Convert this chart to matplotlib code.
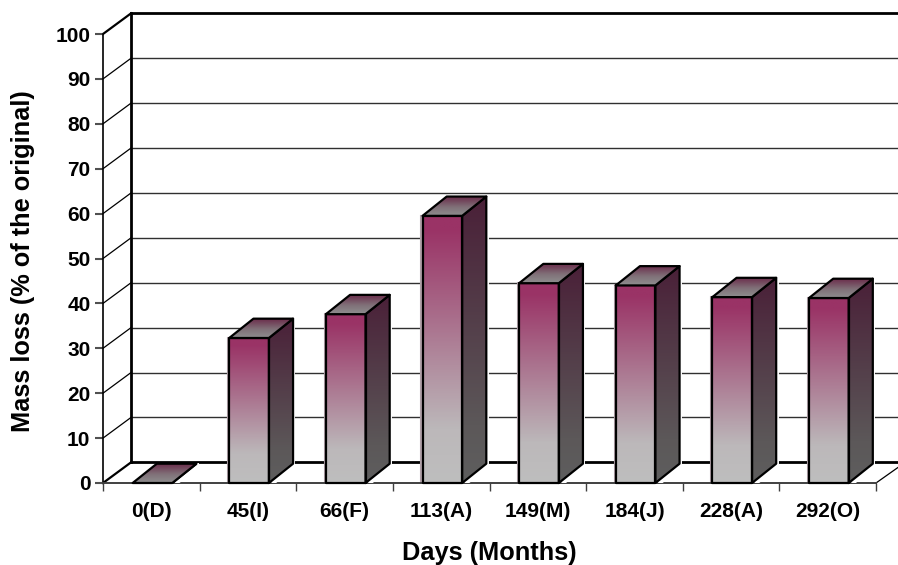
import numpy as np
import matplotlib
matplotlib.use("Agg")
import matplotlib.pyplot as plt
from matplotlib.colors import LinearSegmentedColormap
from matplotlib.patches import Polygon

plt.rcParams['font.family'] = ['Liberation Sans', 'DejaVu Sans']

categories = ['0(D)', '45(I)', '66(F)', '113(A)', '149(M)', '184(J)', '228(A)', '292(O)']
mass_loss = [0, 32.3, 37.6, 59.5, 44.5, 44.0, 41.4, 41.2]
y_ticks = [0, 10, 20, 30, 40, 50, 60, 70, 80, 90, 100]

# depth of the fake 3d, in data units
wall_dx, wall_dy = 0.29, 4.6
bar_dx, bar_dy = 0.25, 4.3
bar_w = 0.41
bar_shift = 0.012

front_cmap = LinearSegmentedColormap.from_list('front', [(0, '#bebebe'), (0.2, '#bcb8ba'), (0.95, '#9a3366'), (1, '#9a3366')])
side_cmap = LinearSegmentedColormap.from_list('side', [(0, '#5e5e5e'), (0.2, '#5c5859'), (1, '#4a2038')])
top_cmap = LinearSegmentedColormap.from_list('top', [(0, '#8e8e8e'), (0.45, '#807078'), (1, '#6a2848')])
grad = np.linspace(0, 1, 200).reshape(-1, 1)


def face(ax, pts, cmap, z):
    xs = [p[0] for p in pts]
    ys = [p[1] for p in pts]
    if max(ys) == min(ys):
        return
    im = ax.imshow(grad, cmap=cmap, origin='lower', aspect='auto', zorder=z,
                   extent=(min(xs), max(xs), min(ys), max(ys)))
    poly = Polygon(pts, closed=True, transform=ax.transData, fill=False, lw=0)
    ax.add_patch(poly)
    im.set_clip_path(poly)
    ax.add_patch(Polygon(pts, closed=True, fill=False, ec='black', lw=1.6, zorder=z + 0.5,
                         joinstyle='round', clip_on=False))


fig = plt.figure(figsize=(8.98, 5.65), dpi=100)
ax = fig.add_axes([103 / 898, 1 - 483 / 565, 773 / 898, 449 / 565])
n = len(categories)

# walls and grid
for v in y_ticks:
    ax.plot([0, wall_dx], [v, v + wall_dy], color='black', lw=1.6 if v in (0, 100) else 0.9,
            zorder=1, clip_on=False)
    if 0 < v < 100:
        ax.plot([wall_dx, n + 0.23], [v + wall_dy] * 2, color='#303030', lw=1.0, zorder=1, clip_on=False)
ax.plot([wall_dx, n + 0.23], [wall_dy] * 2, color='black', lw=2.0, zorder=1, clip_on=False)
ax.plot([wall_dx, n + 0.23], [100 + wall_dy] * 2, color='black', lw=2.0, zorder=1, clip_on=False)
ax.plot([wall_dx, wall_dx], [wall_dy, 100 + wall_dy], color='black', lw=2.0, zorder=1, clip_on=False)
ax.plot([n, n + 0.23], [0, 3.5], color='black', lw=0.9, zorder=1, clip_on=False)

# bars
for i, val in enumerate(mass_loss):
    x0 = i + 0.5 - bar_w / 2 + bar_shift
    x1 = x0 + bar_w
    z = 3
    # white edge behind the side face
    ax.plot([x1 + bar_dx + 0.014] * 2, [bar_dy - 0.6, val + bar_dy], color='white', lw=1.4, zorder=2)
    ax.plot([x1 + 0.012, x1 + bar_dx + 0.014], [-0.6, bar_dy - 0.6], color='white', lw=2.4, zorder=2.6)
    # pale rim on the left of the front face
    ax.plot([x0 - 0.012] * 2, [0, val], color='#b0a0a8', lw=1.5, zorder=2)
    face(ax, [(x0, 0), (x1, 0), (x1, val), (x0, val)], front_cmap, z)
    face(ax, [(x1, 0), (x1 + bar_dx, bar_dy), (x1 + bar_dx, val + bar_dy), (x1, val)], side_cmap, z)
    face(ax, [(x0, val), (x1, val), (x1 + bar_dx, val + bar_dy), (x0 + bar_dx, val + bar_dy)], top_cmap, z + 1)

ax.set_xlim(0, n)
ax.set_ylim(0, 100)
for name in ['top', 'right']:
    ax.spines[name].set_visible(False)
ax.spines['left'].set_linewidth(1.2)
ax.spines['left'].set_zorder(2)
ax.spines['bottom'].set_linewidth(1.4)
ax.spines['bottom'].set_color('#404040')
ax.spines['bottom'].set_zorder(2)

ax.set_yticks(y_ticks)
ax.set_yticklabels([str(v) for v in y_ticks], fontsize=15, fontweight='bold')
ax.set_xticks(range(n + 1))
ax.set_xticklabels([])
ax.set_xticks(np.arange(n) + 0.5, labels=categories, minor=True, fontsize=15, fontweight='bold')
ax.tick_params(axis='x', which='major', length=6, width=1, color='#404040', direction='out')
ax.tick_params(axis='x', which='minor', length=0, pad=14)
ax.tick_params(axis='y', length=6, width=1.5, color='#505050', pad=3)

ax.set_xlabel('Days (Months)', fontsize=18.3, fontweight='bold', labelpad=14)
ax.set_ylabel('Mass loss (% of the original)', fontsize=18.3, fontweight='bold')
ax.yaxis.set_label_coords(-0.0875, 0.494)

fig.savefig('out.png', dpi=100)
